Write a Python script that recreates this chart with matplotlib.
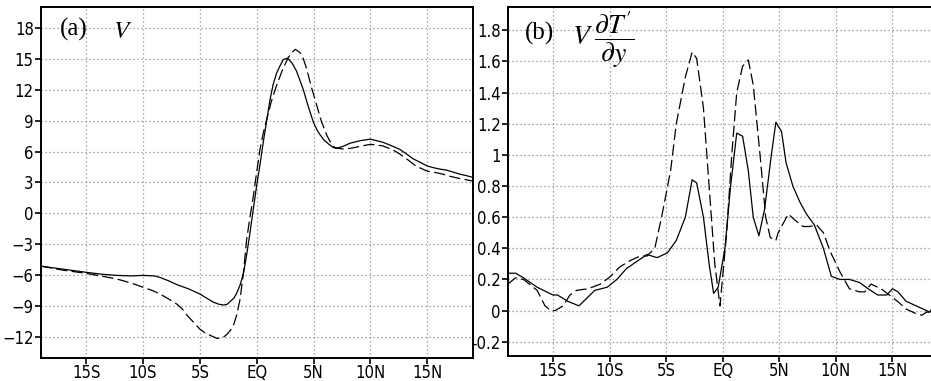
import matplotlib
matplotlib.use("Agg")
import matplotlib.pyplot as plt
from matplotlib.ticker import FixedLocator, FixedFormatter

plt.rcParams['font.family'] = ['DejaVu Sans']
plt.rcParams['font.stretch'] = 'condensed'
plt.rcParams['mathtext.fontset'] = 'stix'

# ---------------- data ----------------
lat_ticks = [-15, -10, -5, 0, 5, 10, 15]
lat_labels = ['15S', '10S', '5S', 'EQ', '5N', '10N', '15N']

# panel (a) V
a_solid_lat = [-19, -17, -15, -13.5, -12.3, -11, -10, -9, -8.5, -7.8, -7.0, -6, -5,
               -4.4, -3.8, -3.3, -2.9, -2.6, -2.3, -2.0, -1.75, -1.45, -1.16, -0.88,
               -0.58, -0.3, 0, 0.3, 0.58, 0.88, 1.17, 1.45, 1.75, 2.05, 2.34, 2.7, 3.1,
               3.5, 4.1, 4.5, 5, 5.4, 5.85, 6.3, 6.73, 7.0, 7.6, 8.2, 9.1, 10, 11.1,
               12.0, 12.6, 13.2, 13.75, 14.4, 15, 15.5, 16.1, 16.7, 17.3, 17.9, 18.5, 19]
a_solid_val = [-5.1, -5.4, -5.7, -5.9, -6.0, -6.05, -6.0, -6.05, -6.2, -6.5, -6.9, -7.3,
               -7.8, -8.2, -8.6, -8.8, -8.87, -8.8, -8.5, -8.2, -7.7, -6.9, -5.8, -4.0,
               -1.8, 0.4, 2.7, 4.8, 6.9, 9.0, 11.0, 12.5, 13.6, 14.3, 14.9, 15.05, 14.6,
               13.8, 12.0, 10.5, 8.8, 7.9, 7.2, 6.75, 6.4, 6.3, 6.5, 6.8, 7.05, 7.2, 6.9,
               6.5, 6.2, 5.75, 5.3, 4.95, 4.6, 4.45, 4.3, 4.2, 4.0, 3.8, 3.65, 3.5]
a_dash_lat = [-19, -17, -15, -13.5, -12.3, -11, -10, -9.2, -8.5, -7.8, -7.0, -6.5, -6.1,
              -5.5, -5, -4.5, -4.1, -3.5, -3.0, -2.6, -2.3, -2.0, -1.75, -1.46, -1.17,
              -0.88, -0.58, -0.29, 0, 0.29, 0.58, 0.88, 1.3, 1.75, 2.3, 2.78, 3.1, 3.4,
              3.8, 4.1, 4.4, 4.8, 5.3, 5.7, 6.2, 6.5, 6.85, 7.5, 8.2, 9.1, 10, 11.1,
              12.0, 12.6, 13.3, 14, 15, 15.8, 16.4, 17, 18, 19]
a_dash_val = [-5.1, -5.5, -5.8, -6.1, -6.35, -6.75, -7.15, -7.45, -7.8, -8.25, -8.8, -9.3,
              -9.9, -10.6, -11.2, -11.6, -11.8, -12.1, -12.05, -11.7, -11.3, -10.7, -9.8,
              -8.3, -5.8, -2.5, -0.3, 1.7, 4.0, 6.2, 7.8, 9.1, 10.9, 12.4, 14.0, 15.1,
              15.6, 15.9, 15.6, 15.0, 14.0, 12.3, 10.4, 8.9, 7.5, 6.9, 6.4, 6.25, 6.3,
              6.5, 6.7, 6.55, 6.15, 5.75, 5.2, 4.6, 4.1, 3.95, 3.8, 3.6, 3.35, 3.15]

# panel (b) V dT'/dy
b_solid_lat = [-19, -18.3, -17.6, -16.4, -15.0, -14.6, -13.7, -12.7, -11.3, -10.2, -9.35,
               -8.5, -7.3, -6.7, -5.8, -4.9, -4.1, -3.3, -2.7, -2.3, -1.7, -1.2, -0.8,
               -0.4, 0.2, 0.7, 1.24, 1.76, 2.26, 2.7, 3.2, 3.7, 4.3, 4.7, 5.2, 5.6, 6.2,
               6.8, 7.4, 8.1, 8.9, 9.6, 10.35, 11.2, 12.1, 12.85, 13.7, 14.5, 15.0,
               15.5, 16.2, 17.1, 18.0, 18.3, 19]
b_solid_val = [0.24, 0.24, 0.21, 0.15, 0.10, 0.10, 0.06, 0.03, 0.13, 0.15, 0.20,
               0.27, 0.33, 0.36, 0.34, 0.37, 0.45, 0.60, 0.84, 0.82, 0.60, 0.30, 0.11,
               0.15, 0.40, 0.80, 1.14, 1.12, 0.90, 0.60, 0.48, 0.65, 1.00, 1.21, 1.15,
               0.95, 0.80, 0.70, 0.62, 0.55, 0.40, 0.22, 0.20, 0.20, 0.18, 0.14, 0.10,
               0.10, 0.14, 0.12, 0.06, 0.03, 0.00, -0.01, 0.08]
b_dash_lat = [-19, -18.3, -17.6, -16.4, -15.7, -15.2, -14.8, -14.1, -13.5, -12.9, -11.9,
              -10.8, -9.9, -9.1, -8.2, -7.3, -6.7, -6.0, -5.4, -4.6, -4.1, -3.3, -2.7,
              -2.3, -1.7, -1.1, -0.7, -0.24, 0.35, 0.8, 1.24, 1.76, 2.26, 2.7, 3.3, 3.8,
              4.2, 4.7, 4.9, 5.8, 6.4, 7.1, 7.7, 8.3, 8.9, 9.5, 10.35, 11.2, 12.1,
              12.55, 13.1, 14.0, 14.9, 15.6, 16.2, 17.1, 17.6, 18.0, 19]
b_dash_val = [0.17, 0.21, 0.20, 0.13, 0.03, 0.00, 0.00, 0.03, 0.10, 0.13, 0.14,
              0.17, 0.22, 0.28, 0.32, 0.35, 0.35, 0.40, 0.60, 0.90, 1.20, 1.50, 1.66,
              1.62, 1.30, 0.70, 0.30, 0.03, 0.50, 1.00, 1.40, 1.57, 1.61, 1.45, 1.00,
              0.60, 0.47, 0.45, 0.50, 0.62, 0.58, 0.54, 0.54, 0.55, 0.50, 0.38, 0.25,
              0.14, 0.12, 0.12, 0.17, 0.14, 0.09, 0.05, 0.01, -0.02, -0.03, -0.01, -0.01]

a_yticks = [-12, -9, -6, -3, 0, 3, 6, 9, 12, 15, 18]
b_yticks = [-0.2, 0, 0.2, 0.4, 0.6, 0.8, 1.0, 1.2, 1.4, 1.6, 1.8]
b_ylabels = ['-0.2', '0', '0.2', '0.4', '0.6', '0.8', '1', '1.2', '1.4', '1.6', '1.8']

# ---------------- figure ----------------
fig = plt.figure(figsize=(9.31, 3.81), dpi=100)
ax_a = fig.add_axes([0.0437, 0.0604, 0.4640, 0.9212])
ax_b = fig.add_axes([0.5453, 0.0664, 0.4619, 0.9152])

dash = (0, (9, 3.5))
grid_kw = dict(color='#8c8c8c', linestyle=(0, (1, 2.2)), linewidth=0.9)


def style(ax):
    ax.set_xlim(-19, 19)
    ax.xaxis.set_major_locator(FixedLocator(lat_ticks))
    ax.xaxis.set_major_formatter(FixedFormatter(lat_labels))
    ax.grid(True, **grid_kw)
    ax.set_axisbelow(True)
    for s in ax.spines.values():
        s.set_linewidth(1.4)
    ax.tick_params(direction='out', length=4, width=1.2, labelsize=12, pad=1)
    ax.tick_params(axis='x', pad=0.5)


ax_a.plot(a_solid_lat, a_solid_val, color='black', linewidth=0.9)
ax_a.plot(a_dash_lat, a_dash_val, color='black', linewidth=0.9, linestyle=dash)
style(ax_a)
ax_a.set_ylim(-14, 20)
ax_a.yaxis.set_major_locator(FixedLocator(a_yticks))
ax_a.set_yticklabels([str(v).replace('-', '\u2212') for v in a_yticks])
ax_a.text(0.045, 0.935, '(a)', transform=ax_a.transAxes, fontsize=18,
          family='Liberation Serif', va='center', ha='left')
ax_a.text(0.167, 0.932, '$V$', transform=ax_a.transAxes, fontsize=18,
          va='center', ha='left')

ax_b.plot(b_solid_lat, b_solid_val, color='black', linewidth=0.9)
ax_b.plot(b_dash_lat, b_dash_val, color='black', linewidth=0.9, linestyle=dash)
style(ax_b)
ax_b.set_ylim(-0.29, 1.95)
ax_b.yaxis.set_major_locator(FixedLocator(b_yticks))
ax_b.set_yticklabels(b_ylabels)
ax_b.text(0.04, 0.925, '(b)', transform=ax_b.transAxes, fontsize=18,
          family='Liberation Serif', va='center', ha='left')
ax_b.text(0.15, 0.905, r"$V\;\dfrac{\partial T'}{\partial y}$",
          transform=ax_b.transAxes, fontsize=20, va='center', ha='left')

fig.savefig('out.png', dpi=100)
